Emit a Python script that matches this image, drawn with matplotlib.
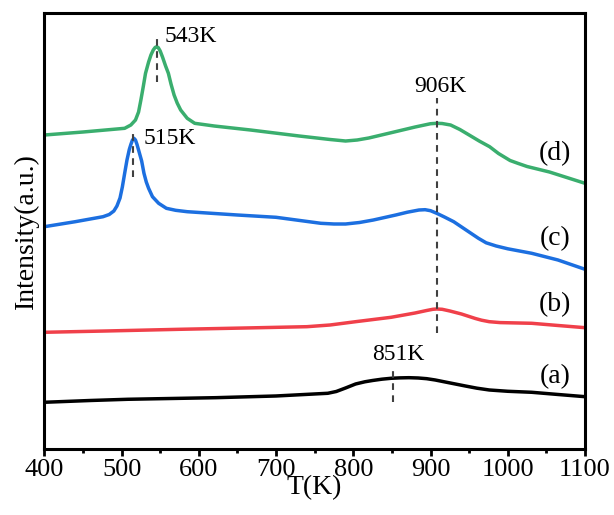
import matplotlib
matplotlib.use("Agg")
import matplotlib.pyplot as plt
from matplotlib.ticker import MultipleLocator

plt.rcParams['font.family'] = ['Liberation Serif', 'DejaVu Serif']

# ---- data ----
T_a = [400, 460, 508, 622, 700, 767, 778, 790, 803, 815, 825, 837, 849, 860, 872, 884, 895, 906, 917,
       930, 945, 960, 976, 1000, 1031, 1065, 1100]
I_a = [46.7, 48.5, 49.7, 51.3, 53, 55.7, 57.5, 61, 65, 67.2, 68.5, 69.8, 70.7, 71.1, 71.3, 71, 70.3, 69,
       67.3, 65.3, 63, 60.8, 59, 57.7, 56.7, 54.5, 52.3]

T_b = [400, 480, 576, 660, 740, 770, 803, 849, 880, 895, 903, 908, 915, 925, 940, 950, 958, 966, 976,
       990, 1031, 1065, 1100]
I_b = [116.7, 118, 119.7, 121, 122.3, 124, 127.3, 131.7, 136, 138.5, 139.7, 140, 139.7, 138, 135, 132.5,
       130.5, 128.8, 127.3, 126.4, 125.7, 123.5, 121.3]

T_c = [400, 440, 476, 484, 490, 494, 498, 501, 504, 507, 510, 512, 514, 516, 518, 520, 522, 526, 529, 532, 535,
       540, 548, 558, 570, 585, 650, 700, 758, 775, 790, 808, 826, 855, 870, 885, 893, 900, 908, 918, 930,
       946, 962, 972, 985, 1000, 1031, 1065, 1100]
I_c = [222.3, 227.3, 232.3, 234.5, 238, 243, 251, 262, 275.7, 289, 299.5, 304.5, 308.8, 310.7, 309, 304.5, 299,
       288, 275.7, 267, 260.7, 252.3, 245.7, 240.7, 238.7, 237.3, 234, 231.7, 225.7, 225, 225, 226.5, 229, 234,
       236.8, 239, 239.3, 238.3, 235.7, 232, 227.3, 219, 210.7, 206.2, 203, 200.2, 195.7, 189, 179.7]

T_d = [400, 450, 504, 512, 518, 522, 525, 528, 531, 535, 538, 541, 543.5, 545.5, 547.5, 550, 553, 557, 560.6,
       564, 568, 572, 576.5, 585, 594.7, 620, 667, 730, 770, 790, 805, 820, 849, 880, 900, 908, 915, 926, 938,
       950, 963, 976.5, 988, 1003, 1013, 1025, 1054, 1100]
I_d = [314, 317, 320.7, 324, 329, 337, 349, 362, 375.7, 387, 394, 399, 401.6, 402.3, 401.4, 398, 392, 383, 375.7,
       365, 354, 346, 339, 330.7, 325.7, 323, 319, 313, 309.5, 308, 309, 311, 316.3, 322, 325.3, 325.7, 325.5, 324,
       319.5, 314, 308, 302.3, 295.5, 288.5, 285.7, 282.5, 277, 265.7]

series_labels = ['(a)', '(b)', '(c)', '(d)']
label_T = [1061, 1061, 1061, 1061]
label_I = [72.3, 144, 210.7, 295.7]

peak_T = [545.5, 515.2, 908, 851.5]
peak_lo = [367.3, 272.3, 116, 47.3]
peak_hi = [412.3, 319, 350.7, 82.3]
peak_text = ['543K', '515K', '906K', '851K']
peak_text_T = [556, 528, 913, 858]
peak_text_I = [413, 311, 363, 94]
peak_text_ha = ['left', 'left', 'center', 'center']

colors = ['#000000', '#f0404a', '#1c6fe0', '#3aae6e']

# ---- figure ----
fig = plt.figure(figsize=(6.14, 5.15), dpi=100)
ax = fig.add_axes([0.0722, 0.1282, 0.8806, 0.8471])

for T, I, c in zip([T_a, T_b, T_c, T_d], [I_a, I_b, I_c, I_d], colors):
    ax.plot(T, I, color=c, lw=2.5, solid_joinstyle='round', solid_capstyle='round')

for x, lo, hi in zip(peak_T, peak_lo, peak_hi):
    ax.plot([x, x], [lo, hi], color='#404040', lw=1.5, ls=(0, (3.2, 2.6)))

for s, x, y, ha in zip(peak_text, peak_text_T, peak_text_I, peak_text_ha):
    ax.text(x, y, s, fontsize=17, ha=ha, va='center')

for s, x, y in zip(series_labels, label_T, label_I):
    ax.text(x, y, s, fontsize=20, ha='center', va='center')

ax.set_xlim(400, 1100)
ax.set_ylim(0, 436.3)
ax.set_yticks([])
ax.xaxis.set_major_locator(MultipleLocator(100))
ax.xaxis.set_minor_locator(MultipleLocator(50))
ax.tick_params(axis='x', which='major', direction='out', length=5, width=2, labelsize=19, pad=2)
ax.tick_params(axis='x', which='minor', direction='out', length=3, width=2)
for sp in ax.spines.values():
    sp.set_linewidth(2.2)

ax.set_xlabel('T(K)', fontsize=20, labelpad=-4)
ax.set_ylabel('Intensity(a.u.)', fontsize=20, labelpad=4)

fig.savefig('out.png', dpi=100)
